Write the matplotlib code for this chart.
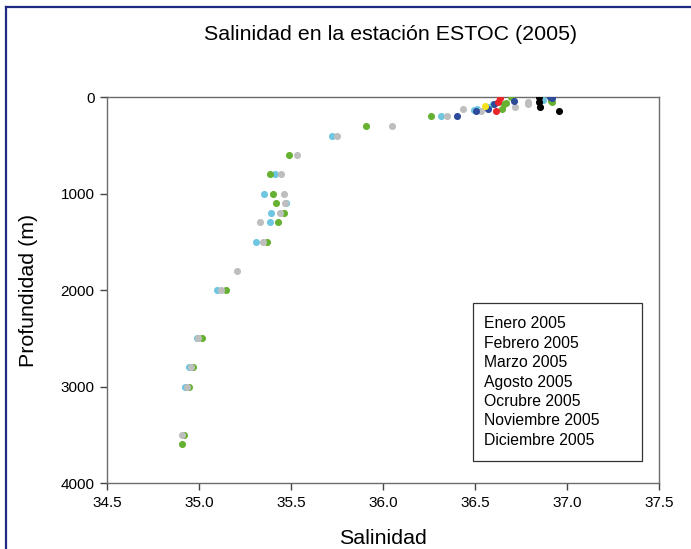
#Salinity profile at ESTOC station, 2005
import matplotlib
matplotlib.use('Agg')
import matplotlib.pyplot as plt
from matplotlib.lines import Line2D
from matplotlib.patches import Rectangle

plt.rcParams['font.family'] = ['Liberation Sans', 'DejaVu Sans']

#data: salinity and depth (m) for each month
months = ['Enero 2005', 'Febrero 2005', 'Marzo 2005', 'Agosto 2005',
          'Ocrubre 2005', 'Noviembre 2005', 'Diciembre 2005']

ene_sal = [36.85, 36.85, 36.855, 36.955]
ene_dep = [0, 50, 100, 150]

feb_sal = [36.635, 36.625, 36.615]
feb_dep = [10, 50, 150]

mar_sal = [36.555]
mar_dep = [90]

ago_sal = [36.40, 36.505, 36.569, 36.603, 36.714, 36.91, 36.92]
ago_dep = [200, 150, 120, 75, 45, 0, 10]

oct_sal = [36.313, 36.495, 36.513, 36.572, 36.60, 36.871, 35.72, 35.415,
           35.355, 35.475, 35.39, 35.386, 35.31, 35.10, 34.99, 34.946, 34.924]
oct_dep = [200, 130, 120, 100, 70, 30, 400, 800,
           1000, 1100, 1200, 1300, 1500, 2000, 2500, 2800, 3000]

nov_sal = [36.259, 36.645, 36.66, 36.668, 36.694, 36.915, 36.92, 35.908,
           35.49, 35.386, 35.40, 35.42, 35.46, 35.43, 35.368, 35.147,
           35.015, 34.966, 34.946, 34.92, 34.906]
nov_dep = [200, 120, 75, 60, 0, 45, 50, 300,
           600, 800, 1000, 1100, 1200, 1300, 1500, 2000,
           2500, 2800, 3000, 3500, 3600]

dic_sal = [36.35, 36.437, 36.53, 36.717, 36.786, 36.786, 36.85, 36.05,
           35.75, 35.53, 35.446, 35.46, 35.467, 35.44, 35.33, 35.35,
           35.205, 35.118, 34.996, 34.955, 34.933, 34.908]
dic_dep = [200, 125, 145, 100, 50, 75, 0, 300,
           400, 600, 800, 1000, 1100, 1200, 1300, 1500,
           1800, 2000, 2500, 2800, 3000, 3500]

series = [(ene_sal, ene_dep, 'black'),
          (feb_sal, feb_dep, '#E8262A'),
          (mar_sal, mar_dep, '#F2E21E'),
          (ago_sal, ago_dep, '#2E4A9A'),
          (oct_sal, oct_dep, '#6EC6E0'),
          (nov_sal, nov_dep, '#66B032'),
          (dic_sal, dic_dep, '#BEBEBE')]

fig = plt.figure(figsize=(6.91, 5.49), dpi=100)
ax = fig.add_axes([0.1549, 0.1202, 0.7988, 0.7031])

#draw months, later ones on top
order = [4, 5, 6, 3, 0, 1, 2]
for i in order:
    sal, dep, col = series[i]
    ax.scatter(sal, dep, s=26, color=col, linewidths=0, zorder=3)

ax.set_xlim(34.5, 37.5)
ax.set_ylim(4000, 0)
ax.set_xticks([34.5, 35.0, 35.5, 36.0, 36.5, 37.0, 37.5])
ax.set_xticklabels(['34.5', '35.0', '35.5', '36.0', '36.5', '37.0', '37.5'])
ax.set_yticks([0, 1000, 2000, 3000, 4000])

for sp in ax.spines.values():
    sp.set_color('#6b6b6b')
    sp.set_linewidth(1.0)
ax.tick_params(direction='out', length=5, width=1, color='#444444',
               labelsize=11, pad=4, top=False, right=False)

ax.set_title('Salinidad en la estación ESTOC (2005)', fontsize=15.4, pad=41,
             x=0.5145)
ax.set_xlabel('Salinidad', fontsize=15.4, labelpad=14)
ax.set_ylabel('Profundidad (m)', fontsize=15.4, labelpad=16)

#legend box with text only (no markers, as in the original)
ax.add_patch(Rectangle((0.663, 0.057), 0.306, 0.409, transform=ax.transAxes,
                       facecolor='white', edgecolor='#333333', lw=0.9,
                       zorder=4))
for k, name in enumerate(months):
    ax.text(0.683, 0.401 - k * 0.0504, name, transform=ax.transAxes,
            fontsize=11.3, va='baseline', ha='left', zorder=5)

#dark blue border on the left and top of the figure
fig.add_artist(Line2D([0.0087, 0.0087], [0, 0.987], color='#1F2A80', lw=1.6,
                      transform=fig.transFigure))
fig.add_artist(Line2D([0.0087, 1], [0.987, 0.987], color='#1F2A80', lw=1.6,
                      transform=fig.transFigure))

plt.savefig('out.png', dpi=100)
